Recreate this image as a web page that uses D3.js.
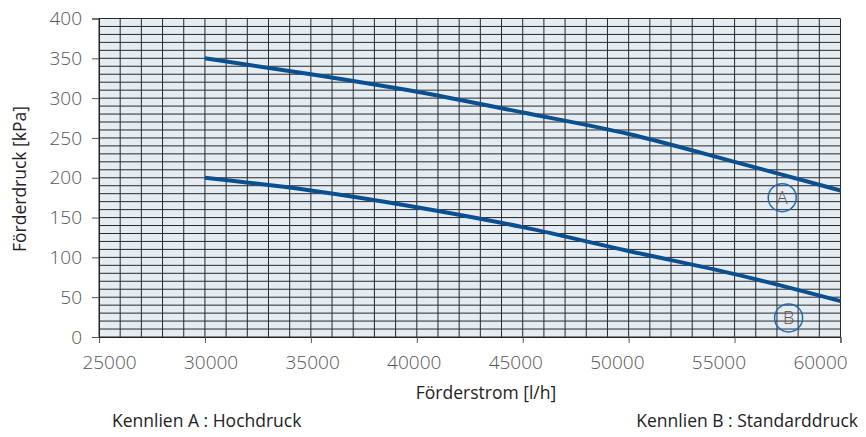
<!DOCTYPE html>
<head>
  <meta charset="utf-8">
  <title>Förderdruck</title>
  <style>
    body { margin: 0; background: #fff; }
    text { font-family: "Open Sans", sans-serif; }
  </style>
</head>
<body>
  <svg width="866" height="437"></svg>
  <script src="https://d3js.org/d3.v7.min.js"></script>
  <script>
    // Förderstrom [l/h]
    var flow = [30000, 35000, 40000, 45000, 50000, 55000, 60000];
    // Kennlinie A (Hochdruck) and B (Standarddruck), kPa
    var curveA = [350, 330, 308, 282, 255, 220, 184];
    var curveB = [200, 184, 163, 138, 108, 79, 45];
    var xTicks = [25000, 30000, 35000, 40000, 45000, 50000, 55000, 60000];
    var yTicks = [0, 50, 100, 150, 200, 250, 300, 350, 400];
    var labels = [
      {name: "A", x: 57250, y: 175},
      {name: "B", x: 57550, y: 24}
    ];

    var svg = d3.select("svg"),
        margin = {top: 18.5, right: 25, bottom: 100, left: 99},
        width = +svg.attr("width") - margin.left - margin.right,
        height = +svg.attr("height") - margin.top - margin.bottom;

    var graph = svg.append("g").attr("transform", "translate(" + margin.left + "," + margin.top + ")");

    var x = d3.scaleLinear().domain([25000, 60000]).range([0, width - 0.5]);
    var y = d3.scaleLinear().domain([0, 400]).range([height, 0]);
    // the x tick labels are spread a bit tighter than the ticks themselves
    var xLabel = d3.scaleLinear().domain([25000, 60000]).range([10, 721]);

    // plot background
    graph.append("rect")
        .attr("width", x(60000))
        .attr("height", height)
        .attr("fill", "#e5ecf2");

    //grid, every 1000 l/h and every 10 kPa
    graph.append("g").selectAll("line")
        .data(d3.range(25000, 60001, 1000))
        .enter().append("line")
          .attr("x1", function(d) { return x(d); })
          .attr("x2", function(d) { return x(d); })
          .attr("y1", 0)
          .attr("y2", height)
          .attr("stroke", "#2a2a2a")
          .attr("stroke-width", 1);

    graph.append("g").selectAll("line")
        .data(d3.range(0, 401, 10))
        .enter().append("line")
          .attr("x1", 0)
          .attr("x2", x(60000))
          .attr("y1", function(d) { return y(d); })
          .attr("y2", function(d) { return y(d); })
          .attr("stroke", "#2a2a2a")
          .attr("stroke-width", 1);

    //axes
    var xAxis = graph.append("g")
        .attr("transform", "translate(0," + height + ")")
        .call(d3.axisBottom(x).tickValues(xTicks).tickSize(6).tickFormat(d3.format("d")));
    xAxis.select(".domain").attr("stroke", "#222");
    xAxis.selectAll(".tick line").attr("stroke", "#555");
    xAxis.selectAll("text")
        .attr("font-family", "Open Sans, sans-serif")
        .attr("font-size", 19)
        .attr("font-weight", 300)
        .attr("fill", "#555")
        .attr("x", function(d) { return xLabel(d) - x(d); })
        .attr("dy", "1.2em");

    var yAxis = graph.append("g")
        .call(d3.axisLeft(y).tickValues(yTicks).tickSize(7));
    yAxis.select(".domain").attr("stroke", "#222");
    yAxis.selectAll(".tick line").attr("stroke", "#555");
    yAxis.selectAll("text")
        .attr("font-family", "Open Sans, sans-serif")
        .attr("font-size", 19)
        .attr("font-weight", 300)
        .attr("fill", "#555")
        .attr("x", -17);

    //curves
    var line = d3.line()
        .x(function(d) { return x(d[0]); })
        .y(function(d) { return y(d[1]); })
        .curve(d3.curveMonotoneX);

    [curveA, curveB].forEach(function(c) {
      graph.append("path")
          .datum(flow.map(function(f, i) { return [f, c[i]]; }))
          .attr("fill", "none")
          .attr("stroke", "#0a5090")
          .attr("stroke-width", 4)
          .attr("d", line);
    });

    //curve labels
    var lab = graph.append("g").selectAll("g")
        .data(labels)
        .enter().append("g")
          .attr("transform", function(d) { return "translate(" + x(d.x) + "," + y(d.y) + ")"; });
    lab.append("circle")
        .attr("r", 14)
        .attr("fill", "none")
        .attr("stroke", "#1f6cb4")
        .attr("stroke-width", 1.5);
    lab.append("text")
        .attr("text-anchor", "middle")
        .attr("dy", "0.36em")
        .attr("font-size", 18)
        .attr("font-weight", 300)
        .attr("fill", "#555")
        .text(function(d) { return d.name; });

    //titles
    svg.append("text")
        .attr("x", 486)
        .attr("y", 393)
        .attr("dy", "0.35em")
        .attr("text-anchor", "middle")
        .attr("font-size", 17.5)
        .attr("fill", "#222")
        .text("Förderstrom [l/h]");

    svg.append("text")
        .attr("transform", "translate(20,179) rotate(-90)")
        .attr("dy", "0.35em")
        .attr("text-anchor", "middle")
        .attr("font-size", 17.5)
        .attr("fill", "#222")
        .text("Förderdruck [kPa]");

    svg.append("text")
        .attr("x", 112)
        .attr("y", 421)
        .attr("dy", "0.35em")
        .attr("font-size", 17.5)
        .attr("fill", "#222")
        .text("Kennlien A : Hochdruck");

    svg.append("text")
        .attr("x", 858)
        .attr("y", 421)
        .attr("dy", "0.35em")
        .attr("text-anchor", "end")
        .attr("font-size", 17.5)
        .attr("fill", "#222")
        .text("Kennlien B : Standarddruck");
  </script>
</body>
